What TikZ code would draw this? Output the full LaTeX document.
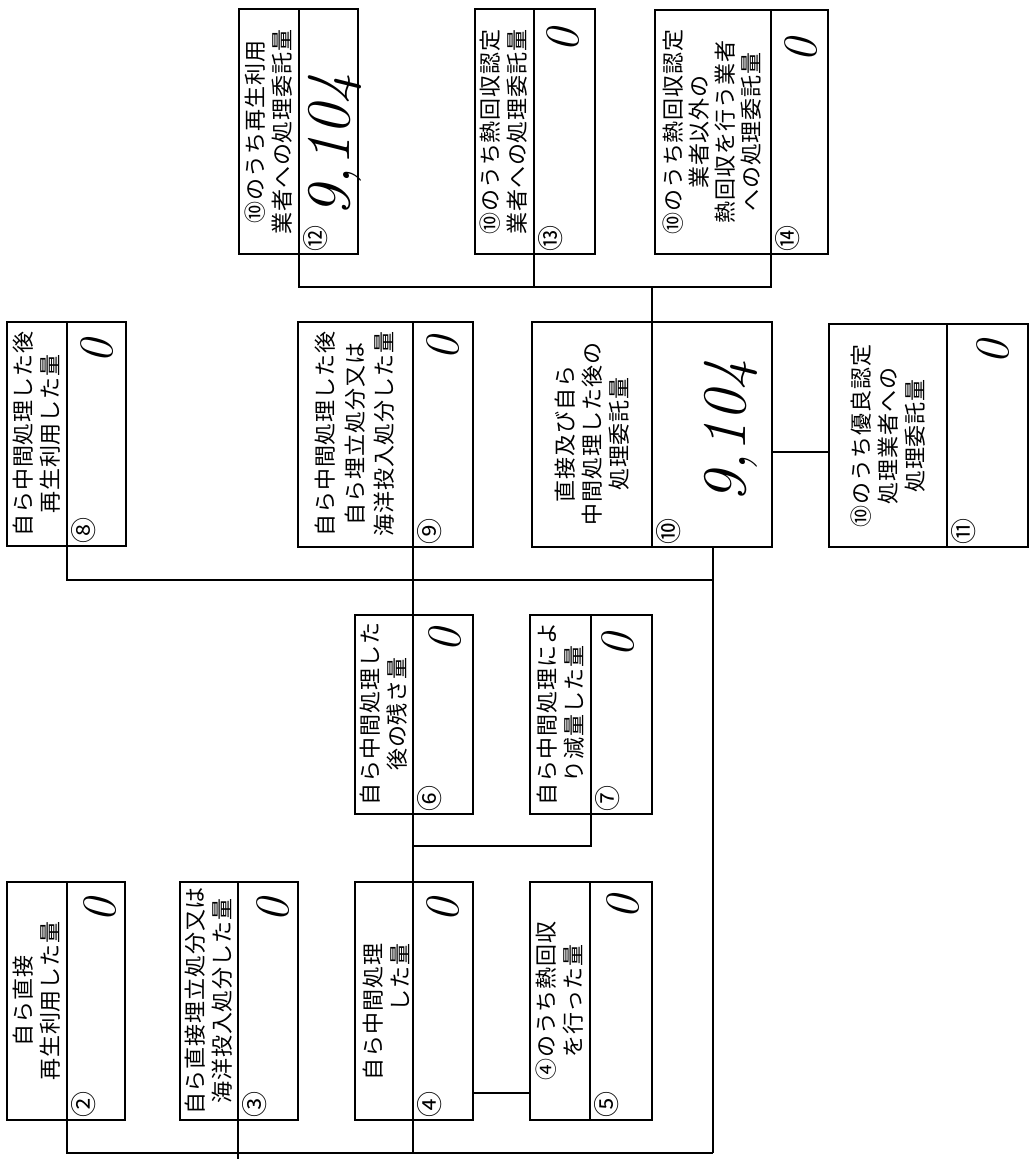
\documentclass[tikz,border=0pt]{standalone}
\usepackage{fontspec}
\newfontfamily\jp[LetterSpace=4]{Noto Sans CJK JP}
\newfontfamily\jpnum{Noto Sans CJK JP}
\usetikzlibrary{fit}
\tikzset{
  frame/.style={draw, line width=1.6pt, inner sep=0pt, outer sep=0pt},
  wire/.style={line width=1.6pt},
  lbl/.style={rotate=90, align=center, inner sep=0pt,
    font=\jp\fontsize{22}{27}\selectfont},
  cnum/.style={rotate=90, inner sep=0pt, font=\jpnum\fontsize{26}{26}\selectfont},
  hand/.style={rotate=90, inner sep=0pt, font=\itshape\fontsize{48}{48}\selectfont},
  bighand/.style={rotate=90, inner sep=0pt, font=\itshape\fontsize{62}{62}\selectfont},
}
\newcommand\mkbox[6]{%
  \node[frame, fit={(#2,#3) (#4,#5)}] (#1) {};
  \coordinate (#1d) at (#6,#3);
  \draw[wire] (#1.north -| #1d) -- (#1.south -| #1d);
}
\begin{document}
\begin{tikzpicture}[x=1pt,y=-1pt]
\useasboundingbox (0,0) rectangle (1033,1159);
\fill[white] (0,0) rectangle (1033,1159);

% boxes: name, x1, y1, x2, y2, divider
\mkbox{b2}{7}{882}{125}{1120}{67}
\mkbox{b3}{180}{882}{298}{1120}{238}
\mkbox{b4}{355}{882}{473}{1120}{413}
\mkbox{b5}{530}{882}{652}{1120}{590}
\mkbox{b6}{355}{615}{473}{814}{413}
\mkbox{b7}{530}{615}{652}{814}{591}
\mkbox{b8}{7}{322}{126}{546}{67}
\mkbox{b9}{298}{322}{473}{547}{413}
\mkbox{b10}{532}{322}{772}{547}{652}
\mkbox{b11}{829}{324}{1028}{547}{947}
\mkbox{b12}{239}{9}{358}{254}{299}
\mkbox{b13}{475}{9}{595}{254}{534}
\mkbox{b14}{655}{10}{828}{254}{771}

% labels
\node[lbl] (t2) at (37,1001) {自ら直接\\再生利用した量};
\node[lbl] (t3) at (209,1001) {自ら直接埋立処分又は\\海洋投入処分した量};
\node[lbl, align=right] (t4) at (386,1012) {自ら中間処理\\した量};
\node[lbl] (t5) at (560,1001) {④のうち熱回収\\を行った量};
\node[lbl] (t6) at (384,714) {自ら中間処理した\\後の残さ量};
\node[lbl] (t7) at (561,714) {自ら中間処理によ\\り減量した量};
\node[lbl] (t8) at (37,434) {自ら中間処理した後\\再生利用した量};
\node[lbl, font=\jp\fontsize{22}{29.5}\selectfont] (t9) at (355,434) {自ら中間処理した後\\自ら埋立処分又は\\海洋投入処分した量};
\node[lbl] (t10) at (592,434) {直接及び自ら\\中間処理した後の\\処理委託量};
\node[lbl] (t11) at (888,436) {⑩のうち優良認定\\処理業者への\\処理委託量};
\node[lbl] (t12) at (269,132) {⑩のうち再生利用\\業者への処理委託量};
\node[lbl] (t13) at (504,132) {⑩のうち熱回収認定\\業者への処理委託量};
\node[lbl, font=\jp\fontsize{22}{26}\selectfont] (t14) at (712,132) {⑩のうち熱回収認定\\業者以外の\\熱回収を行う業者\\への処理委託量};

% circled numbers
\node[cnum] (n2) at (84,1104) {②};
\node[cnum] (n3) at (255,1104) {③};
\node[cnum] (n4) at (430,1104) {④};
\node[cnum] (n5) at (607,1104) {⑤};
\node[cnum] (n6) at (430,798) {⑥};
\node[cnum] (n7) at (608,798) {⑦};
\node[cnum] (n8) at (84,530) {⑧};
\node[cnum] (n9) at (430,531) {⑨};
\node[cnum] (n10) at (669,531) {⑩};
\node[cnum] (n11) at (964,531) {⑪};
\node[cnum] (n12) at (316,238) {⑫};
\node[cnum] (n13) at (551,238) {⑬};
\node[cnum] (n14) at (788,238) {⑭};

% handwritten values
\node[hand] (v2) at (100,910) {0};
\node[hand] (v3) at (273,910) {0};
\node[hand] (v4) at (443,910) {0};
\node[hand] (v5) at (623,907) {0};
\node[hand] (v6) at (445,640) {0};
\node[hand] (v7) at (618,645) {0};
\node[hand] (v8) at (97,351) {0};
\node[hand] (v9) at (443,348) {0};
\node[hand] (v11) at (993,352) {0};
\node[hand] (v13) at (563,40) {0};
\node[hand] (v14) at (801,50) {0};
\node[bighand] (v10) at (731,431) {9,104};
\node[bighand] (v12) at (335,145) {9,104};

% connector junctions
\coordinate (tb) at (652,287);
\coordinate (j1011) at (800,452);
\coordinate (mb) at (713,580);
\coordinate (bb) at (713,1153);
\coordinate (j67) at (413,846);
\coordinate (j45) at (500,1093);
\coordinate (tick) at (238,1159);

% top bus: 12, 13, 14 -> 10
\draw[wire] (b12.south -| b12d) |- (tb) -| (b14.south -| b14d);
\draw[wire] (b13.south -| b13d) -- (b13d |- tb);
\draw[wire] (tb) -- (b10.north -| tb);
% 10 -> 11
\draw[wire] (b10.east |- j1011) -- (b11.west |- j1011);
% middle bus: 8, 9 -> right vertical up to 10
\draw[wire] (b8.south -| b8d) |- (mb) -- (b10.south -| mb);
% main vertical through 9, 6, 4 dividers
\draw[wire] (b9.south -| b9d) -- (b9d |- bb);
% right vertical and bottom bus
\draw[wire] (mb) -- (bb);
\draw[wire] (b2.south -| b2d) |- (bb);
\draw[wire] (b3.south -| b3d) -- (tick);
% 7 -> 6 line
\draw[wire] (b7.south -| b7d) |- (j67);
% 4 -> 5
\draw[wire] (b4.east |- j45) -- (b5.west |- j45);
\end{tikzpicture}
\end{document}
